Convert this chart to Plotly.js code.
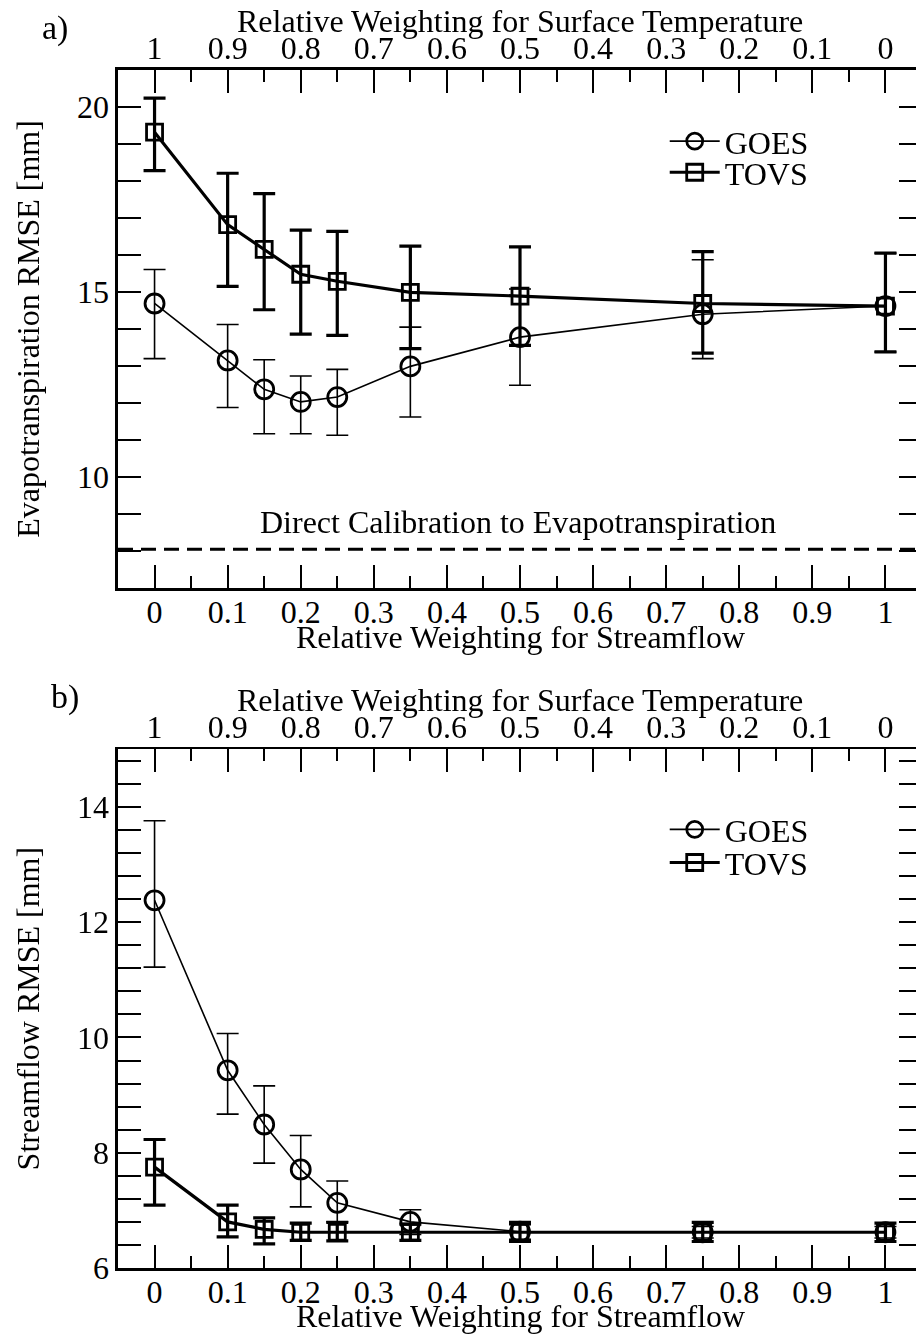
<!DOCTYPE html>
<html>
<head>
<meta charset="utf-8">
<script src="https://cdn.plot.ly/plotly-3.0.1.min.js"></script>
<style>
html,body{margin:0;padding:0;overflow:hidden;background:#fff;}
#chart{width:940px;height:1334px;}
</style>
</head>
<body>
<div id="chart"></div>
<script>
// ---- data ----
const streamflowWeight = [0, 0.1, 0.15, 0.2, 0.25, 0.35, 0.5, 0.75, 1];

// Panel a: Evapotranspiration RMSE [mm]
const etGoes      = [14.69, 13.15, 12.37, 12.03, 12.16, 12.99, 13.78, 14.40, 14.62];
const etGoesHigh  = [15.61, 14.12, 13.17, 12.73, 12.91, 14.05, 15.08, 15.87, 16.05];
const etGoesLow   = [13.20, 11.88, 11.17, 11.17, 11.13, 11.62, 12.48, 13.20, 13.38];
const etTovs      = [19.32, 16.82, 16.15, 15.48, 15.29, 14.99, 14.89, 14.69, 14.62];
const etTovsHigh  = [20.24, 18.21, 17.66, 16.67, 16.64, 16.24, 16.22, 16.09, 16.05];
const etTovsLow   = [18.28, 15.15, 14.52, 13.86, 13.83, 13.47, 13.56, 13.35, 13.38];
const directCalibrationRMSE = 8.05;

// Panel b: Streamflow RMSE [mm]
const sfGoes      = [12.38, 9.43, 8.49, 7.71, 7.13, 6.80, 6.63, 6.62, 6.62];
const sfGoesHigh  = [13.76, 10.07, 9.16, 8.30, 7.51, 7.01, 6.75, 6.72, 6.72];
const sfGoesLow   = [11.22, 8.67, 7.82, 7.06, 6.80, 6.58, 6.50, 6.52, 6.52];
const sfTovs      = [7.75, 6.80, 6.67, 6.62, 6.62, 6.62, 6.62, 6.62, 6.62];
const sfTovsHigh  = [8.23, 7.09, 6.87, 6.78, 6.79, 6.76, 6.79, 6.79, 6.78];
const sfTovsLow   = [7.09, 6.54, 6.42, 6.48, 6.47, 6.48, 6.46, 6.46, 6.46];

const bottomTitle = 'Relative Weighting for Streamflow';
const topTitle = 'Relative Weighting for Surface Temperature';
const yTitleA = 'Evapotranspiration RMSE [mm]';
const yTitleB = 'Streamflow RMSE [mm]';
const annotText = 'Direct Calibration to Evapotranspiration';

// ---- helpers ----
const FONT = '"Liberation Serif", "Times New Roman", serif';
const FS = 32;
const diff = (a, b) => a.map((v, i) => v - b[i]);
// surface-temperature weight is the complement of the streamflow weight
const surfaceWeight = streamflowWeight.map(w => 1 - w);

function series(name, y, hi, lo, thick, xa, ya, legend) {
  const isGoes = name === 'GOES';
  return {
    type: 'scatter', mode: 'lines+markers', name: name,
    x: streamflowWeight, y: y, xaxis: xa, yaxis: ya, legend: legend,
    line: {color: '#000', width: thick ? 3.2 : 1.6},
    marker: {symbol: isGoes ? 'circle-open' : 'square-open', size: isGoes ? 19 : 16,
             color: '#000', line: {color: '#000', width: 2.8}},
    error_y: {type: 'data', symmetric: false, array: diff(hi, y), arrayminus: diff(y, lo),
              color: '#000', thickness: thick ? 3.2 : 1.6, width: 11},
    cliponaxis: false
  };
}
// invisible carrier traces so the top (surface-temperature) axes are drawn
function carrier(y, xa, ya) {
  return {type: 'scatter', mode: 'markers', x: surfaceWeight, y: y, xaxis: xa, yaxis: ya,
          opacity: 0, showlegend: false, hoverinfo: 'skip', marker: {size: 1, color: '#fff'}};
}

const data = [
  carrier(etGoes, 'x2', 'y'),
  carrier(sfGoes, 'x4', 'y2'),
  series('GOES', etGoes, etGoesHigh, etGoesLow, false, 'x', 'y', 'legend'),
  series('TOVS', etTovs, etTovsHigh, etTovsLow, true, 'x', 'y', 'legend2'),
  series('GOES', sfGoes, sfGoesHigh, sfGoesLow, false, 'x3', 'y2', 'legend3'),
  series('TOVS', sfTovs, sfTovsHigh, sfTovsLow, true, 'x3', 'y2', 'legend4')
];

const tickFont = {family: FONT, size: FS, color: '#000'};
const tickStyle = {
  ticks: 'inside', ticklen: 23, tickwidth: 2, tickcolor: '#000',
  showline: true, linewidth: 2.6, linecolor: '#000',
  showgrid: false, zeroline: false, tickfont: tickFont
};
function xBottom(anchor) {
  return Object.assign({}, tickStyle, {
    anchor: anchor, range: [-0.05, 1.05], dtick: 0.1, tick0: 0, ticklabelstandoff: -6,
    minor: {dtick: 0.05, ticks: 'inside', ticklen: 12, tickwidth: 2, tickcolor: '#000'}
  });
}
function xTop(overlay, anchor) {
  return Object.assign({}, tickStyle, {
    overlaying: overlay, anchor: anchor, side: 'top', range: [1.05, -0.05], dtick: 0.1, tick0: 0,
    ticklabelstandoff: -4,
    minor: {dtick: 0.05, ticks: 'inside', ticklen: 12, tickwidth: 2, tickcolor: '#000'}
  });
}
function yAxis(domain, range, dtick, minorDtick, titleText, anchor) {
  return Object.assign({}, tickStyle, {
    domain: domain, anchor: anchor, range: range, dtick: dtick, tick0: 0, mirror: 'allticks',
    minor: {dtick: minorDtick, ticks: 'inside', ticklen: 12, tickwidth: 2, tickcolor: '#000'},
    title: {text: titleText, font: tickFont, standoff: 28}
  });
}
function legendAt(y) {
  return {x: 0.68, y: y, xanchor: 'left', yanchor: 'middle', bgcolor: 'rgba(0,0,0,0)',
          font: {family: FONT, size: FS, color: '#000'}, itemwidth: 50, borderwidth: 0};
}
function label(text, x, y, size) {
  return {text: text, xref: 'paper', yref: 'paper', x: x, y: y, showarrow: false,
          xanchor: 'center', yanchor: 'middle', font: {family: FONT, size: size || FS, color: '#000'}};
}

const layout = {
  width: 940, height: 1334,
  margin: {l: 118, r: 18, t: 70, b: 66},
  paper_bgcolor: '#fff', plot_bgcolor: '#fff',
  font: {family: FONT, color: '#000'},
  showlegend: true,
  xaxis: xBottom('y'),
  xaxis2: xTop('x', 'y'),
  xaxis3: xBottom('y2'),
  xaxis4: xTop('x3', 'y2'),
  yaxis: yAxis([0.5676, 1], [7, 21], 5, 1, yTitleA, 'x'),
  yaxis2: yAxis([0, 0.43297], [6, 15], 2, 0.4, yTitleB, 'x3'),
  legend: legendAt(0.9405),
  legend2: legendAt(0.9145),
  legend3: legendAt(0.3660),
  legend4: legendAt(0.3383),
  shapes: [{type: 'line', xref: 'x domain', yref: 'y', x0: 0, x1: 1,
            y0: directCalibrationRMSE, y1: directCalibrationRMSE,
            line: {color: '#000', width: 3, dash: '15px,8px'}}],
  annotations: [
    {text: annotText, xref: 'x domain', yref: 'y', x: 0.497, y: 8.78, showarrow: false,
     xanchor: 'center', yanchor: 'middle', font: {family: FONT, size: FS, color: '#000'}},
    label(topTitle, 0.5, 1.0405),
    label(bottomTitle, 0.5, 0.5265),
    label(topTitle, 0.5, 0.4745),
    label(bottomTitle, 0.5, -0.0398),
    label('a)', -0.078, 1.035, 34),
    label('b)', -0.066, 0.477, 34)
  ]
};

Plotly.newPlot('chart', data, layout, {displayModeBar: false, staticPlot: true});
</script>
</body>
</html>
